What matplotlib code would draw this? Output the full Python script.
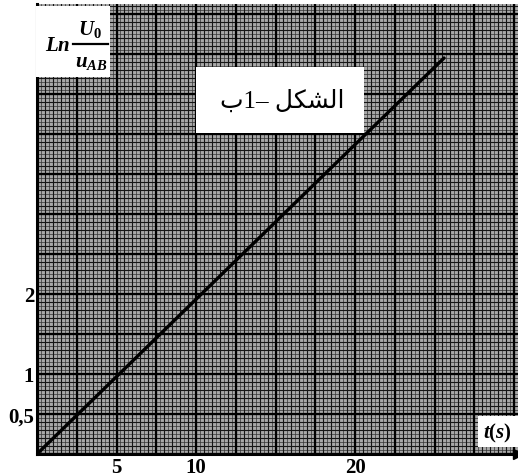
import re
import numpy as np
import matplotlib
matplotlib.use('Agg')
import matplotlib.pyplot as plt
from matplotlib.patches import Rectangle
from matplotlib.lines import Line2D

# -------------------------------------------------------
# Данные
# -------------------------------------------------------
t_line = [0.0, 25.6]          # t (s)
ln_line = [0.0, 4.95]         # Ln(U0/uAB)

x_ticks = [5, 10, 20]
x_tick_labels = ['5', '10', '20']
y_ticks = [0.5, 1, 2]
y_tick_labels = ['0,5', '1', '2']

title_text = 'الشكل –1ب'
y_label_ln = r'$Ln$'
y_label_num = r'$U_0$'
y_label_den = r'$u_{AB}$'
x_label = r'$t(s)$'

# -------------------------------------------------------
# Простая арабская форма букв (matplotlib не делает shaping)
# -------------------------------------------------------
FORMS = {
    # isolated, final, initial, medial
    'ا': ('\uFE8D', '\uFE8E', '\uFE8D', '\uFE8E'),
    'ل': ('\uFEDD', '\uFEDE', '\uFEDF', '\uFEE0'),
    'ش': ('\uFEB5', '\uFEB6', '\uFEB7', '\uFEB8'),
    'ك': ('\uFED9', '\uFEDA', '\uFEDB', '\uFEDC'),
    'ب': ('\uFE8F', '\uFE90', '\uFE91', '\uFE92'),
}
RIGHT_ONLY = {'ا'}


def shape_arabic(text):
    out = []
    for i, ch in enumerate(text):
        if ch not in FORMS:
            out.append(ch)
            continue
        prev = text[i - 1] if i > 0 else ''
        nxt = text[i + 1] if i + 1 < len(text) else ''
        jp = prev in FORMS and prev not in RIGHT_ONLY
        jn = nxt in FORMS and ch not in RIGHT_ONLY
        iso, fin, ini, med = FORMS[ch]
        out.append(med if (jp and jn) else fin if jp else ini if jn else iso)
    # вся строка справа налево, числа остаются слева направо
    s = ''.join(out)[::-1]
    return re.sub(r'\d+', lambda m: m.group(0)[::-1], s)


plt.rcParams['mathtext.fontset'] = 'custom'
plt.rcParams['mathtext.it'] = 'Liberation Serif:bold:italic'
plt.rcParams['mathtext.rm'] = 'Liberation Serif:bold'
plt.rcParams['mathtext.bf'] = 'Liberation Serif:bold'

W, H = 518, 477
fig = plt.figure(figsize=(W / 100, H / 100), dpi=100)
fig.patch.set_facecolor('white')

# оси: начало координат в пикселе (37, 455)
ax = fig.add_axes([37 / W, 22 / H, (W - 37) / W, (455 - 5) / H])
xmax = (W - 37) / 15.9
ymax = (455 - 5) / 80.0
ax.set_xlim(0, xmax)
ax.set_ylim(0, ymax)
ax.set_facecolor('#a8a8a8')

# миллиметровка
for xv in np.arange(0, xmax, 0.25):
    ax.axvline(xv, color='#333333', lw=0.5, zorder=1)
for yv in np.arange(0, ymax, 0.05):
    ax.axhline(yv, color='#333333', lw=0.5, zorder=1)
for xv in np.arange(0, xmax, 0.5):
    ax.axvline(xv, color='#151515', lw=0.8, zorder=1)
for yv in np.arange(0, ymax, 0.1):
    ax.axhline(yv, color='#151515', lw=0.8, zorder=1)
for xv in np.arange(0, xmax, 2.5):
    ax.axvline(xv, color='black', lw=1.6, zorder=1)
for yv in np.arange(0, ymax, 0.5):
    ax.axhline(yv, color='black', lw=1.6, zorder=1)

# прямая
ax.plot(t_line, ln_line, color='black', lw=2.4, zorder=5, solid_capstyle='round')

ax.set_xticks(x_ticks)
ax.set_xticklabels(x_tick_labels)
ax.set_yticks(y_ticks)
ax.set_yticklabels(y_tick_labels)
ax.tick_params(length=0, labelsize=15, pad=2)
for lab in ax.get_xticklabels() + ax.get_yticklabels():
    lab.set_family('Liberation Serif')
    lab.set_weight('bold')

for side in ['top', 'right']:
    ax.spines[side].set_visible(False)
ax.spines['left'].set_linewidth(2.2)
ax.spines['bottom'].set_linewidth(2.2)
ax.plot(1.0, 0, marker='>', color='black', ms=7, transform=ax.transAxes,
        clip_on=False, zorder=6)


def px(x, y):
    return x / W, 1 - y / H


# подпись оси y в белой рамке (дробь собрана вручную)
x0, y0 = px(36, 78)
fig.patches.append(Rectangle((x0, y0), 74 / W, 71 / H, transform=fig.transFigure,
                             facecolor='white', edgecolor='none', zorder=3))
fig.text(*px(58, 45), y_label_ln, fontsize=15, ha='center', va='center', zorder=4)
fig.text(*px(90, 30), y_label_num, fontsize=15, ha='center', va='center', zorder=4)
fig.text(*px(91, 62), y_label_den, fontsize=15, ha='center', va='center', zorder=4)
bx0, by = px(73, 45)
bx1, _ = px(108, 45)
fig.lines.append(Line2D([bx0, bx1], [by, by], color='black', lw=1.6,
                        transform=fig.transFigure, zorder=4))

# заголовок
x0, y0 = px(196, 134)
fig.patches.append(Rectangle((x0, y0), 168 / W, 66 / H, transform=fig.transFigure,
                             facecolor='white', edgecolor='none', zorder=3))
fig.text(*px(282, 101), shape_arabic(title_text), fontsize=18, ha='center',
         va='center', family=['Liberation Serif', 'DejaVu Sans'], zorder=4)

# подпись оси x
x0, y0 = px(478, 448)
fig.patches.append(Rectangle((x0, y0), 40 / W, 31 / H, transform=fig.transFigure,
                             facecolor='white', edgecolor='none', zorder=3))
fig.text(*px(497, 433), x_label, fontsize=15, ha='center', va='center', zorder=4)

fig.savefig('out.png', dpi=100)
